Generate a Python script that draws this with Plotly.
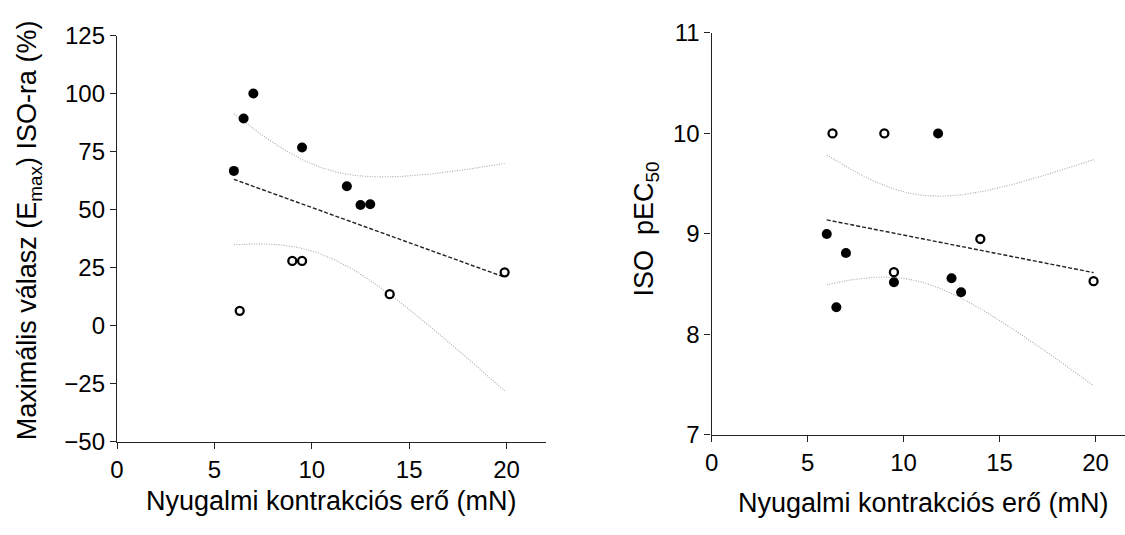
import numpy as np
import plotly.graph_objects as go

# ---- data ----
force_filled = [6.0, 6.5, 7.0, 9.5, 11.8, 12.5, 13.0]
emax_filled = [66.7, 89.3, 100.0, 76.8, 60.1, 52.0, 52.3]
pec50_filled = [9.00, 8.27, 8.81, 8.52, 10.00, 8.56, 8.42]

force_open = [6.3, 9.0, 9.5, 14.0, 19.9]
emax_open = [6.4, 27.9, 27.9, 13.6, 23.0]
pec50_open = [10.00, 10.00, 8.62, 8.95, 8.53]

x_ticks = [0, 5, 10, 15, 20]
emax_ticks = [-50, -25, 0, 25, 50, 75, 100, 125]
pec50_ticks = [7, 8, 9, 10, 11]

T_CRIT = 2.228  # t(0.975, df=10)

W, H = 1125, 535
FONT = "Liberation Sans, Arial, sans-serif"


def fit_with_ci(x, y, n=120):
    x = np.asarray(x, float)
    y = np.asarray(y, float)
    slope, icpt = np.polyfit(x, y, 1)
    res = y - (slope * x + icpt)
    s = np.sqrt(np.sum(res ** 2) / (len(x) - 2))
    sxx = np.sum((x - x.mean()) ** 2)
    xs = np.linspace(x.min(), x.max(), n)
    ys = slope * xs + icpt
    hw = T_CRIT * s * np.sqrt(1 / len(x) + (xs - x.mean()) ** 2 / sxx)
    return xs, ys, ys - hw, ys + hw


fig = go.Figure()

panels = [
    ("x", "y", emax_filled, emax_open),
    ("x2", "y2", pec50_filled, pec50_open),
]

for xa, ya, yf, yo in panels:
    xs_all = force_filled + force_open
    ys_all = yf + yo
    xs, ys, lo, hi = fit_with_ci(xs_all, ys_all)
    for band in (lo, hi):
        fig.add_trace(go.Scatter(x=xs, y=band, mode="lines", xaxis=xa, yaxis=ya,
                                 line=dict(color="#a8a8a8", width=1.1, dash="1px,1.5px"),
                                 showlegend=False, hoverinfo="skip"))
    fig.add_trace(go.Scatter(x=xs, y=ys, mode="lines", xaxis=xa, yaxis=ya,
                             line=dict(color="#222222", width=1.4, dash="4px,2px"),
                             showlegend=False, hoverinfo="skip"))
    fig.add_trace(go.Scatter(x=force_filled, y=yf, mode="markers", xaxis=xa, yaxis=ya,
                             marker=dict(symbol="circle", size=10, color="black",
                                         line=dict(width=0)),
                             showlegend=False))
    fig.add_trace(go.Scatter(x=force_open, y=yo, mode="markers", xaxis=xa, yaxis=ya,
                             marker=dict(symbol="circle", size=8, color="white",
                                         line=dict(width=2.3, color="black")),
                             showlegend=False))

axis_common = dict(showline=True, linecolor="#222222", linewidth=1.3,
                   ticks="outside", ticklen=6, tickwidth=1.3, tickcolor="#222222",
                   showgrid=False, zeroline=False,
                   tickfont=dict(family=FONT, size=24, color="black"))

fig.update_layout(
    width=W, height=H,
    margin=dict(l=0, r=0, t=0, b=0),
    paper_bgcolor="white", plot_bgcolor="white",
    font=dict(family=FONT, color="black"),
    xaxis=dict(domain=[110.7 / W, 541.9 / W], range=[0, 22],
               tickvals=x_ticks, anchor="y", **axis_common),
    yaxis=dict(domain=[(H - 450.5) / H, (H - 22.7) / H], range=[-50, 125],
               tickvals=emax_ticks, anchor="x", **axis_common),
    xaxis2=dict(domain=[709.0 / W, 1.0], range=[0, (W - 709.0) / 19.315],
                tickvals=x_ticks, anchor="y2", **axis_common),
    yaxis2=dict(domain=[(H - 443.3) / H, (H - 20.0) / H], range=[7, 11],
                tickvals=pec50_ticks, anchor="x2", **axis_common),
)

TITLE_SIZE = 27
annots = [
    dict(text="Nyugalmi kontrakciós erő (mN)", x=327 / W, y=(H - 513) / H),
    dict(text="Nyugalmi kontrakciós erő (mN)", x=922 / W, y=(H - 515) / H),
    dict(text="Maximális válasz (E<sub>max</sub>) ISO-ra (%)", x=23 / W, y=(H - 228) / H,
         textangle=-90),
    dict(text="ISO\u00a0 pEC<sub>50</sub>", x=643 / W, y=(H - 226) / H, textangle=-90),
]
for a in annots:
    fig.add_annotation(xref="paper", yref="paper", xanchor="center", yanchor="middle",
                       showarrow=False, font=dict(family=FONT, size=TITLE_SIZE, color="black"),
                       **a)

fig.write_html("out.html")
